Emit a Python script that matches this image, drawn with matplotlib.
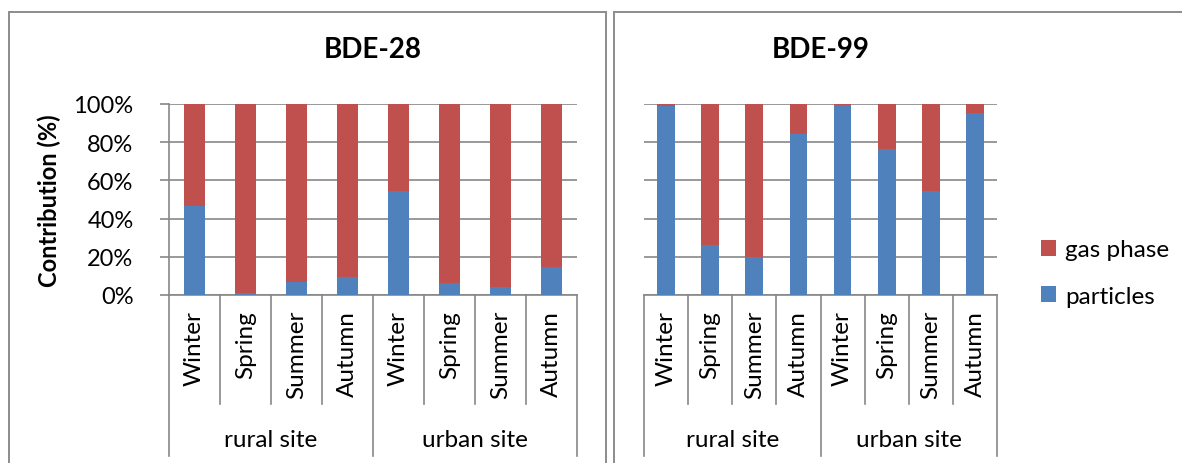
import matplotlib
matplotlib.use("Agg")
import matplotlib.pyplot as plt
from matplotlib.patches import Rectangle, Patch
from matplotlib.lines import Line2D
import matplotlib.transforms as mtransforms
from matplotlib.ticker import FuncFormatter, FixedLocator

plt.rcParams['font.family'] = ['Lato', 'DejaVu Sans']

seasons = ["Winter", "Spring", "Summer", "Autumn", "Winter", "Spring", "Summer", "Autumn"]
sites = ["rural site", "urban site"]
titles = ["BDE-28", "BDE-99"]
series_names = ["gas phase", "particles"]

bde28_particles = [46.7, 1.0, 7.0, 9.5, 54.7, 6.3, 4.2, 14.4]
bde28_gas = [53.3, 99.0, 93.0, 90.5, 45.3, 93.7, 95.8, 85.6]
bde99_particles = [99.1, 26.1, 19.8, 84.2, 99.6, 76.3, 54.2, 95.1]
bde99_gas = [0.9, 73.9, 80.2, 15.8, 0.4, 23.7, 45.8, 4.9]

y_ticks = [0, 20, 40, 60, 80, 100]

BLUE = "#4F81BD"
RED = "#C0504D"
GRID = "#878787"
W, H = 1182, 464

fig = plt.figure(figsize=(W / 100, H / 100), dpi=100)

def fx(px):
    return px / W

def fy(py):
    return 1 - py / H

# panel borders
fig.add_artist(Rectangle((fx(9), fy(480)), fx(606 - 9), fy(13) - fy(480),
                         transform=fig.transFigure, fill=False,
                         edgecolor="#8C8C8C", linewidth=1.4))
fig.add_artist(Rectangle((fx(614), fy(480)), fx(1200 - 614), fy(13) - fy(480),
                         transform=fig.transFigure, fill=False,
                         edgecolor="#8C8C8C", linewidth=1.4))

ax_top, ax_bot = 105, 296
ax_h = ax_bot - ax_top
panels = [
    (169, 577, bde28_particles, bde28_gas, titles[0], True),
    (644, 997, bde99_particles, bde99_gas, titles[1], False),
]

def yfrac(py):
    return (ax_bot - py) / ax_h

FS = 17.5

for (x0, x1, part, gas, title, show_y) in panels:
    ax = fig.add_axes([fx(x0), fy(ax_bot), fx(x1 - x0), fy(ax_top) - fy(ax_bot)])
    xs = list(range(len(seasons)))
    pvals = [v / 100 for v in part]
    gvals = [v / 100 for v in gas]
    ax.bar(xs, pvals, width=0.4, color=BLUE, zorder=3, label=series_names[1])
    ax.bar(xs, gvals, width=0.4, bottom=pvals, color=RED, zorder=3, label=series_names[0])
    ax.set_xlim(-0.5, len(seasons) - 0.5)
    ax.set_ylim(0, 1)
    ax.yaxis.set_major_locator(FixedLocator([t / 100 for t in y_ticks]))
    ax.yaxis.set_major_formatter(FuncFormatter(lambda v, p: f"{v * 100:.0f}%"))
    ax.grid(axis="y", color=GRID, linewidth=1.2, zorder=0)
    ax.set_axisbelow(True)
    for s in ["top", "right"]:
        ax.spines[s].set_visible(False)
    ax.spines["bottom"].set_color(GRID)
    ax.spines["bottom"].set_linewidth(1.2)
    ax.set_xticks([])
    if show_y:
        ax.spines["left"].set_color(GRID)
        ax.spines["left"].set_linewidth(1.2)
        ax.tick_params(axis="y", direction="out", length=6.5, width=1.2,
                       color=GRID, labelsize=17, pad=19)
        ax.set_ylabel("Contribution (%)", fontsize=17, fontweight="bold")
        ax.yaxis.set_label_coords(-(169 - 61) / (x1 - x0), 0.5)
    else:
        ax.spines["left"].set_visible(False)
        ax.tick_params(axis="y", length=0, labelleft=False)

    trans = mtransforms.blended_transform_factory(ax.transData, ax.transAxes)
    n = len(seasons)
    for i in range(n + 1):
        xb = i - 0.5
        ybot = yfrac(457) if i % 4 == 0 else yfrac(405)
        ax.add_line(Line2D([xb, xb], [0, ybot], transform=trans, color=GRID,
                           linewidth=1.2, clip_on=False))
    for i, s in enumerate(seasons):
        ax.text(i, yfrac(311), s, transform=trans, rotation=90, ha="center",
                va="top", fontsize=FS)
    for g, site in enumerate(sites):
        ax.text(g * 4 + 1.5, yfrac(440), site, transform=trans, ha="center",
                va="center", fontsize=FS)
    ax.text(0.5, yfrac(50), title, transform=ax.transAxes, ha="center",
            va="center", fontsize=20, fontweight="bold")

handles = [Patch(facecolor=RED, edgecolor="none", label=series_names[0]),
           Patch(facecolor=BLUE, edgecolor="none", label=series_names[1])]
fig.legend(handles=handles, loc="center left",
           bbox_to_anchor=(fx(1034), fy(274)), frameon=False, fontsize=FS,
           handlelength=0.62, handleheight=0.62, handletextpad=0.35,
           labelspacing=1.05, borderaxespad=0, borderpad=0.3)

fig.savefig("out.png", dpi=100)
